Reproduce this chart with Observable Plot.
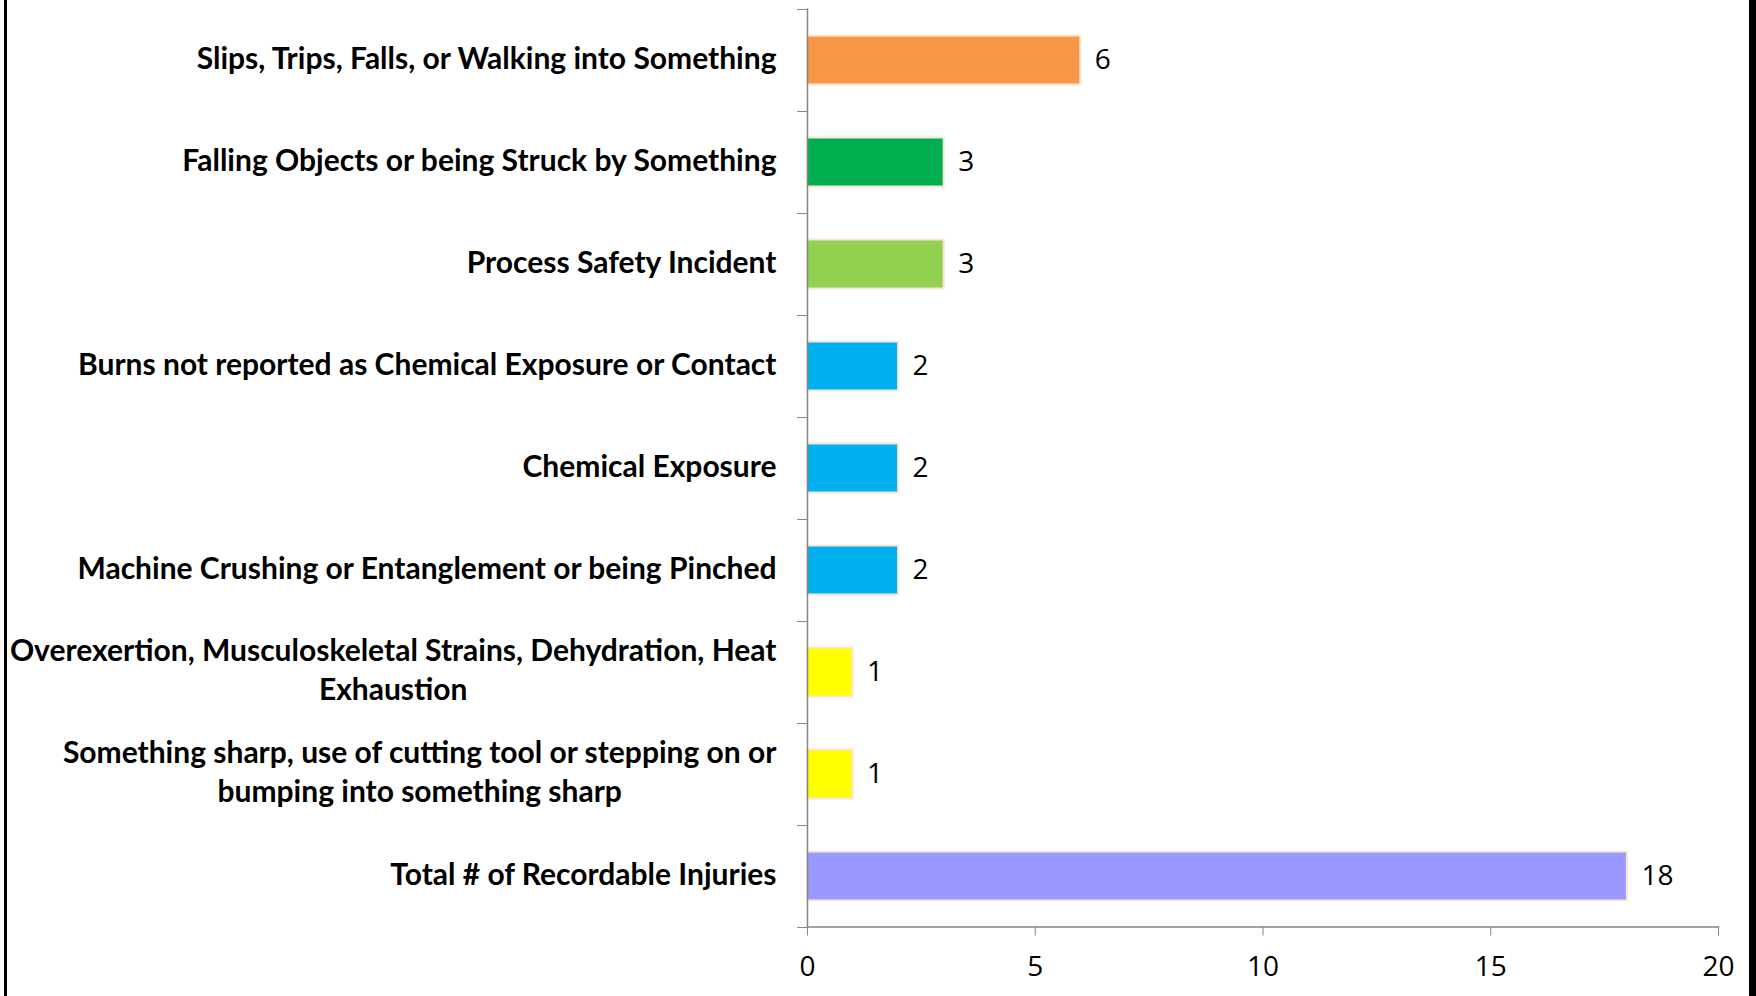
<!DOCTYPE html>
<html><head><meta charset="utf-8">
<script src="https://cdn.jsdelivr.net/npm/d3@7"></script>
<script src="https://cdn.jsdelivr.net/npm/@observablehq/plot@0.6"></script>
<style>
html,body{margin:0;padding:0;background:#fff;}
#wrap{position:relative;width:1756px;height:996px;overflow:hidden;background:#fff;}
.bl{position:absolute;top:0;bottom:0;background:#000;}
#wrap svg{position:absolute;left:0;top:0;}
</style></head><body>
<div id="wrap"><div class="bl" style="left:4px;width:3px"></div><div class="bl" style="left:1749px;width:7px"></div></div>
<script>
const categories = [
  "Slips, Trips, Falls, or Walking into Something",
  "Falling Objects or being Struck by Something",
  "Process Safety Incident",
  "Burns not reported as Chemical Exposure or Contact",
  "Chemical Exposure",
  "Machine Crushing or Entanglement or being Pinched",
  "Overexertion, Musculoskeletal Strains, Dehydration, Heat\nExhaustion",
  "Something sharp, use of cutting tool or stepping on or\nbumping into something sharp",
  "Total # of Recordable Injuries"
];
const values = [6, 3, 3, 2, 2, 2, 1, 1, 18];
const colors = ["#F79646", "#00B050", "#92D050", "#00B0F0", "#00B0F0", "#00B0F0", "#FFFF00", "#FFFF00", "#9999FF"];
const xTicks = [0, 5, 10, 15, 20];

const data = categories.map((c, i) => ({category: c, value: values[i], color: colors[i]}));
const W = 1756, H = 996, mt = 8.5, mb = 69.5;
const step = (H - mt - mb) / categories.length;
const labelFont = "Lato, 'Open Sans', sans-serif";
const numFont = "'Open Sans', Lato, sans-serif";
const axisGrey = "#868686";

const chart = Plot.plot({
  width: W, height: H,
  marginLeft: 807, marginRight: 38, marginTop: mt, marginBottom: mb,
  style: {background: "transparent", overflow: "visible"},
  x: {domain: [0, 20], ticks: xTicks, label: null},
  y: {domain: categories, padding: 0, label: null},
  marks: [
    Plot.barX(data, {x: "value", y: "category", fill: "color", stroke: "#FBE5D6", strokeWidth: 2, insetTop: 26.5, insetBottom: 26.5}),
    Plot.text(data, {x: "value", y: "category", text: d => String(d.value), textAnchor: "start", dx: 14, fontSize: 28, fontFamily: numFont, fill: "#000"}),
    Plot.axisX({ticks: xTicks, tickSize: 9, tickPadding: 20, fontSize: 28, fontFamily: numFont, stroke: axisGrey, color: "#000", label: null, tickFormat: d => String(d)}),
    Plot.axisY({tickSize: 0, tickPadding: 31, dy: -4, fontSize: 30, fontWeight: "bold", fontFamily: labelFont, lineHeight: 1.3, color: "#000", label: null}),
    Plot.axisY({tickSize: 10, tickFormat: () => "", dy: step / 2, stroke: axisGrey, label: null}),
    Plot.axisY([categories[0]], {tickSize: 10, tickFormat: () => "", dy: -step / 2, stroke: axisGrey, label: null}),
    Plot.frame({anchor: "left", stroke: axisGrey, strokeWidth: 1.5}),
    Plot.frame({anchor: "bottom", stroke: axisGrey, strokeWidth: 1.5})
  ]
});
document.getElementById("wrap").appendChild(chart);

// center wrapped lines of multi-line category labels on each other
chart.querySelectorAll('g[aria-label="y-axis tick label"] text').forEach(t => {
  const spans = t.querySelectorAll("tspan");
  if (spans.length > 1) {
    let maxW = 0;
    spans.forEach(s => { maxW = Math.max(maxW, s.getComputedTextLength()); });
    t.setAttribute("text-anchor", "middle");
    spans.forEach(s => s.setAttribute("x", -maxW / 2));
  }
});
</script>
</body></html>
